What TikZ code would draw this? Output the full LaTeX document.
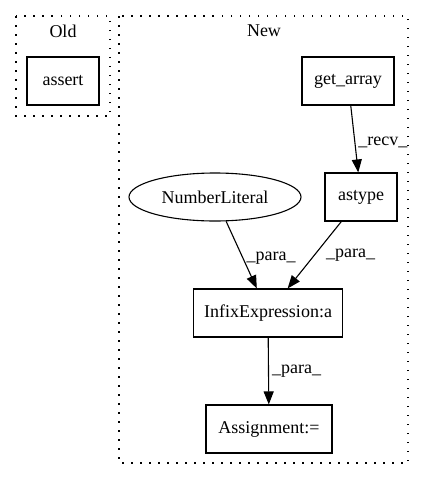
\documentclass[tikz,border=0pt]{standalone}
\usepackage{fontspec}
\setmainfont{Liberation Serif}
\usetikzlibrary{arrows.meta,shapes.geometric}

\begin{document}
\begin{tikzpicture}[x=1pt, y=-1pt,
    every node/.style={font=\fontsize{18}{20}\selectfont},
    box/.style={draw, line width=1.1pt, minimum height=48pt, inner sep=2pt},
    oval/.style={draw, ellipse, line width=1.1pt, minimum width=172pt, minimum height=48pt},
    cluster/.style={line width=1.1pt, dash pattern=on 1.5pt off 7.5pt},
    edge/.style={-{Triangle[length=13pt,width=10pt]}, line width=1.1pt},
    elabel/.style={anchor=west, inner sep=1pt}]
  \useasboundingbox (0,0) rectangle (424,480);

  % --- Old ---
  \draw[cluster] (16,16) rectangle (110,116);
  \node (oldlbl) at (63,31) {Old};
  \node[box, minimum width=72pt] (assert) at (63,81) {assert};

  % --- New ---
  \draw[cluster] (119,16) rectangle (408,463);
  \node (newlbl) at (264,31) {New};
  \node[box, minimum width=92pt] (getarray) at (348,81) {get\_array};
  \node[box, minimum width=72pt] (astype) at (361,197) {astype};
  \node[oval] (numlit) at (215,197) {NumberLiteral};
  \node[box, minimum width=149pt] (infix) at (268,313) {InfixExpression:a};
  \node[box, minimum width=126pt] (assign) at (269,429) {Assignment:=};

  % edges
  \draw[edge] (getarray) -- (astype) node[elabel, pos=0.55, xshift=2pt] {\_recv\_};
  \draw[edge] (numlit) -- (infix) node[elabel, pos=0.55, xshift=2pt] {\_para\_};
  \draw[edge] (astype) -- (infix) node[elabel, pos=0.5, xshift=10pt] {\_para\_};
  \draw[edge] (infix) -- (assign) node[elabel, midway, xshift=2pt] {\_para\_};

\end{tikzpicture}
\end{document}
